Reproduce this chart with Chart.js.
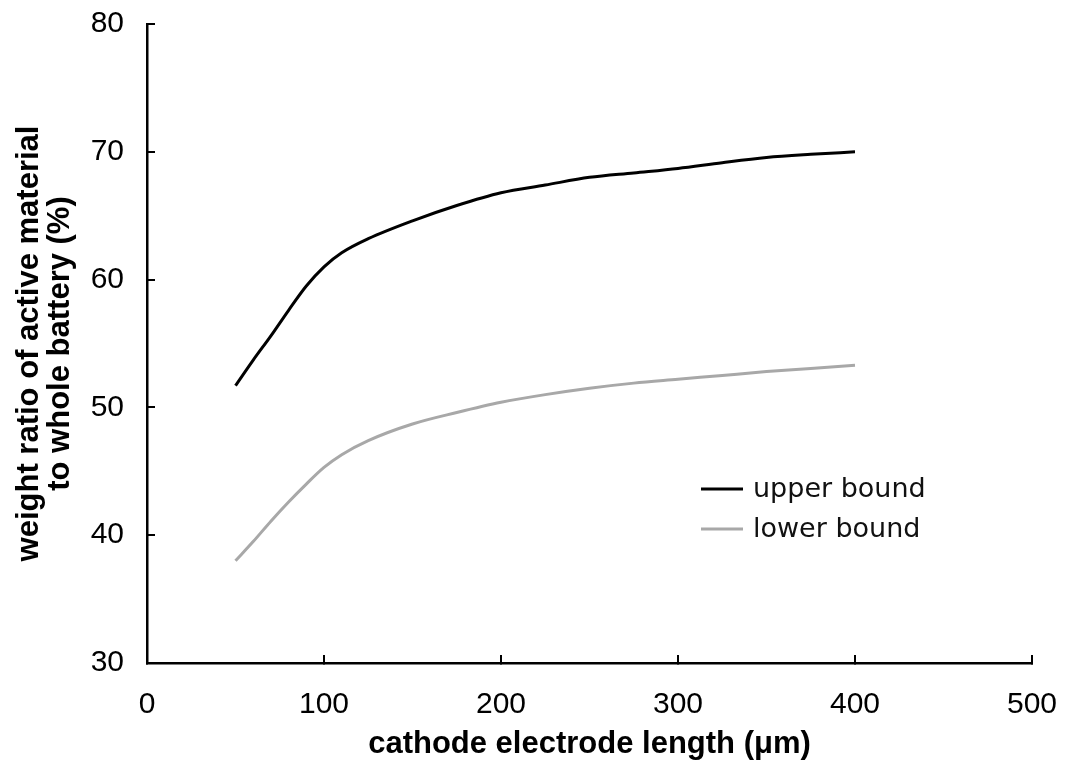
<!DOCTYPE html>
<html><head><meta charset="utf-8">
<script src="https://cdn.jsdelivr.net/npm/chart.js@4/dist/chart.umd.min.js"></script>
<style>html,body{margin:0;padding:0;background:#fff}#wrap{width:1068px;height:772px;position:relative}</style>
</head><body><div id="wrap"><canvas id="c" width="1068" height="772"></canvas></div>
<script>
const xValues = [50,60,70,80,90,100,110,125,150,175,200,225,250,275,300,325,350,375,400];
const upperBound = [51.7,53.7,55.6,57.6,59.5,61.0,62.1,63.2,64.6,65.8,66.8,67.4,68.0,68.35,68.7,69.15,69.55,69.8,70.0];
const lowerBound = [38.0,39.5,41.1,42.6,44.0,45.3,46.3,47.4,48.7,49.6,50.4,51.0,51.5,51.9,52.2,52.5,52.8,53.05,53.3];
const seriesNames = ['upper bound','lower bound'];
const xTicks = [0,100,200,300,400,500];
const yTicks = [30,40,50,60,70,80];
const xTitle = 'cathode electrode length (\u03bcm)';
const yTitle = ['weight ratio of active material','to whole battery (%)'];

const toPts = (xs, ys) => xs.map((x,i)=>({x:x, y:ys[i]}));

const insideLegend = {
  id:'insideLegend',
  afterDatasetsDraw(chart, args, opts){
    const ctx = chart.ctx;
    ctx.save();
    ctx.font = opts.font;
    ctx.textBaseline = 'middle';
    ctx.textAlign = 'left';
    chart.data.datasets.forEach((ds,i)=>{
      const y = opts.y + i*opts.spacing;
      ctx.strokeStyle = ds.borderColor;
      ctx.lineWidth = ds.borderWidth;
      ctx.beginPath();
      ctx.moveTo(opts.x, y);
      ctx.lineTo(opts.x + opts.lineLen, y);
      ctx.stroke();
      ctx.fillStyle = '#111';
      ctx.fillText(ds.label, opts.x + opts.lineLen + opts.gap, y + 1);
    });
    ctx.restore();
  }
};

function noPad(s){ s.paddingLeft = 0; s.paddingRight = 0; s.paddingTop = 0; s.paddingBottom = 0; }

new Chart(document.getElementById('c'), {
  type:'line',
  data:{
    datasets:[
      {label:seriesNames[0], data:toPts(xValues, upperBound), borderColor:'#000000', borderWidth:3, pointRadius:0, cubicInterpolationMode:'monotone', fill:false},
      {label:seriesNames[1], data:toPts(xValues, lowerBound), borderColor:'#a8a8a8', borderWidth:3, pointRadius:0, cubicInterpolationMode:'monotone', fill:false}
    ]
  },
  options:{
    responsive:false,
    animation:false,
    devicePixelRatio:1,
    layout:{padding:{left:0, right:36, top:24, bottom:0}},
    plugins:{
      legend:{display:false},
      tooltip:{enabled:false},
      insideLegend:{x:701, y:489, spacing:40, lineLen:42, gap:10, font:'27px "DejaVu Sans"'}
    },
    scales:{
      x:{
        type:'linear', min:0, max:500,
        afterBuildTicks(s){ s.ticks = xTicks.map(v=>({value:v})); },
        afterFit(s){ s.height = 772 - 663; noPad(s); },
        border:{display:true, color:'#000', width:2.5},
        grid:{display:true, drawOnChartArea:false, drawTicks:true, tickLength:-8, color:'#000', lineWidth:2},
        ticks:{padding:32, color:'#000', font:{family:'"Liberation Sans", Arial, sans-serif', size:30}},
        title:{display:true, text:xTitle, color:'#000', padding:{top:0,bottom:12}, font:{family:'"Liberation Sans", Arial, sans-serif', size:31, weight:'bold', lineHeight:1.0}}
      },
      y:{
        type:'linear', min:30, max:80,
        afterBuildTicks(s){ s.ticks = yTicks.map(v=>({value:v})); },
        afterFit(s){ s.width = 147; noPad(s); },
        border:{display:true, color:'#000', width:2.5},
        grid:{display:true, drawOnChartArea:false, drawTicks:true, tickLength:-8, color:'#000', lineWidth:2},
        ticks:{padding:31, color:'#000', font:{family:'"Liberation Sans", Arial, sans-serif', size:30}},
        title:{display:true, text:yTitle, color:'#000', padding:{top:14,bottom:0}, font:{family:'"Liberation Sans", Arial, sans-serif', size:31, weight:'bold', lineHeight:1.0}}
      }
    }
  },
  plugins:[insideLegend]
});
</script>
</body></html>
